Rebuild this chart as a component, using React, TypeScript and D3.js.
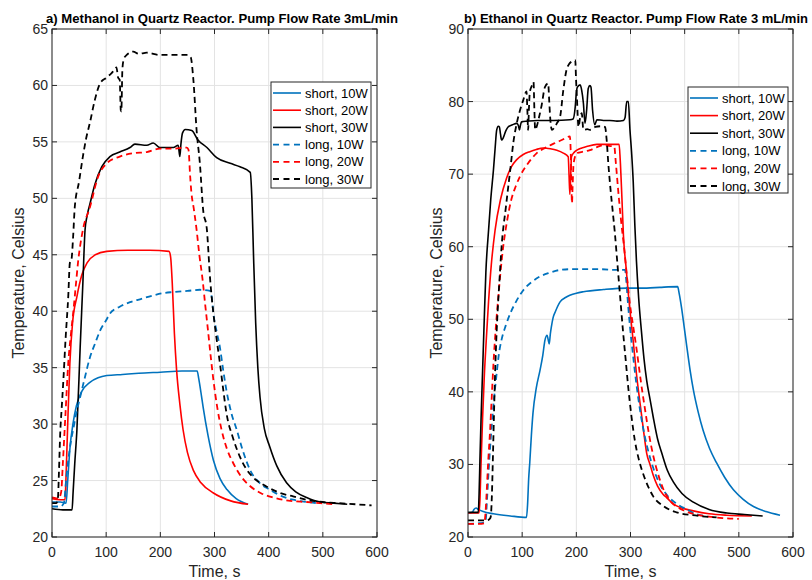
import React from 'react';
import * as d3 from 'd3';

type Pt = [number, number];

// ---------- tick labels / categories ----------
const timeTicks = [0, 100, 200, 300, 400, 500, 600];
const methTempTicks = [20, 25, 30, 35, 40, 45, 50, 55, 60, 65];
const ethTempTicks = [20, 30, 40, 50, 60, 70, 80, 90];
const seriesNames = ['short, 10W', 'short, 20W', 'short, 30W', 'long, 10W', 'long, 20W', 'long, 30W'];
const methTitle = 'a) Methanol in Quartz Reactor. Pump Flow Rate 3mL/min';
const ethTitle = 'b) Ethanol in Quartz Reactor. Pump Flow Rate 3 mL/min';
const xLabel = 'Time, s';
const yLabel = 'Temperature, Celsius';

// ---------- a) Methanol series: [time s, temperature C] ----------
const methShort10: Pt[] = [[0,23.1],[15,23.1],[26,23.0],[29,25.0],[33,27.8],[39,30.1],[45,31.6],[55,32.9],[70,33.7],[85,34.1],[101,34.3],[130,34.4],[160,34.5],[200,34.6],[240,34.7],[268,34.7],[271,34.0],[275,32.8],[279,31.5],[288,29.0],[298,26.8],[310,25.2],[323,24.2],[340,23.4],[362,22.9]];
const methShort20: Pt[] = [[0,23.4],[15,23.3],[24,23.3],[26,25.5],[29,30],[33,35.4],[38,39],[46,41.3],[55,43.2],[65,44.3],[80,45.0],[101,45.3],[140,45.4],[180,45.4],[216,45.3],[219,44.8],[222,42.5],[226,38],[230,34.8],[236,31.8],[242,29.5],[250,27.5],[261,25.9],[275,24.8],[298,23.9],[330,23.2],[362,22.9]];
const methShort30: Pt[] = [[0,22.5],[20,22.4],[37,22.4],[39,24],[42,26.5],[46,29.5],[52,36.8],[57,42.5],[61,47.2],[65,48.5],[70,49.5],[79,51.2],[92,52.8],[107,53.7],[125,54.1],[144,54.5],[153,54.8],[175,54.7],[187,54.9],[199,54.5],[224,54.5],[233,54.7],[236,53.7],[238,54.8],[241,55.8],[246,56.1],[258,56.0],[269,55.2],[286,54.5],[304,53.6],[329,53.1],[347,52.8],[366,52.3],[369,50],[372,45],[376,39],[380,35],[384,32.4],[392,29.6],[402,28.0],[415,26.3],[433,24.8],[450,24.0],[470,23.5],[495,23.1],[520,23.0],[545,22.9]];
const methLong10: Pt[] = [[0,22.7],[15,22.7],[22,23],[26,25],[30,26.8],[35,28.5],[39,29.5],[45,31],[52,32.4],[60,34.0],[70,35.9],[80,37.2],[89,38.3],[100,39.2],[107,39.8],[125,40.4],[144,40.8],[165,41.1],[187,41.4],[205,41.6],[224,41.7],[250,41.8],[273,41.9],[292,41.8],[295,41.2],[298,39.8],[304,38.2],[310,36.8],[316,34.8],[322,33.0],[331,31.0],[341,29.5],[352,27.7],[366,25.9],[383,24.8],[402,24.2],[425,23.6],[445,23.3],[470,23.1],[490,23.0]];
const methLong20: Pt[] = [[0,23.5],[12,23.4],[17,24],[20,26.5],[25,31],[30,35.4],[35,38],[39,39.8],[44,42.3],[48,44.3],[57,47.2],[70,49.2],[85,51.9],[101,53.1],[125,53.7],[150,54.0],[175,54.1],[199,54.4],[224,54.4],[249,54.5],[252,54.3],[255,52],[257,50.7],[262,49],[267,47.2],[272,45],[278,42.8],[283,40.5],[288,38.3],[293,36.0],[298,33.9],[305,31.5],[313,29.5],[323,27.8],[334,26.6],[350,25.3],[366,24.5],[385,23.9],[408,23.5],[440,23.2],[470,23.1],[495,23.0],[520,22.9]];
const methLong30: Pt[] = [[0,23.0],[8,23.0],[11,23.5],[13,26],[15,29],[18,31.5],[21,33.9],[25,37.5],[30,41.3],[33,44.3],[36,44.6],[39,46.6],[42,49.2],[50,51.5],[57,53.7],[63,55.3],[70,56.7],[79,58.7],[89,60.2],[101,60.7],[110,61.1],[116,61.4],[119,61.6],[122,60.7],[125,60.5],[127,57.8],[128,57.7],[130,61.5],[133,62.4],[138,62.7],[150,63.0],[160,62.8],[175,62.9],[199,62.7],[224,62.7],[249,62.7],[256,62.5],[261,60.5],[267,56],[273,53.1],[279,49],[286,47.2],[292,42.8],[298,39.8],[304,37.5],[310,35.4],[316,33.1],[322,31],[334,28.8],[347,27.1],[359,26.0],[371,25.3],[395,24.5],[421,23.9],[445,23.6],[470,23.3],[500,23.1],[530,23.0],[560,22.9],[590,22.8]];

// ---------- b) Ethanol series ----------
const ethShort10: Pt[] = [[0,23.3],[8,23.4],[11,23.8],[15,24.0],[19,23.8],[28,23.5],[47,23.2],[78,22.9],[108,22.7],[110,24.5],[112,28],[114,30.2],[117,34],[120,37.1],[126,40.5],[133,43],[138,45],[142,47.1],[146,47.8],[148,47.2],[150,46.6],[152,48],[154,49],[157,50.2],[161,51],[170,52.4],[180,53.0],[188,53.3],[200,53.6],[213,53.8],[250,54.1],[293,54.3],[330,54.3],[354,54.4],[387,54.5],[390,53.5],[394,51.7],[399,49],[404,46.2],[410,43],[416,40.3],[425,37.2],[434,34.7],[446,32.2],[459,30.2],[474,28.2],[490,26.5],[508,25.2],[527,24.2],[550,23.5],[576,23.0]];
const ethShort20: Pt[] = [[0,23.3],[20,23.3],[22,25],[24,30],[27,36.5],[30,42],[34,47.5],[38,52.5],[43,57.5],[50,62.3],[60,66.5],[71,69.4],[80,71],[90,72],[102,72.7],[114,73.1],[126,73.4],[139,73.6],[152,73.5],[164,73.3],[176,72.9],[185,72.4],[186.5,70],[188,67.2],[189.5,69.5],[191,72.4],[196,73],[201,73.3],[210,73.6],[219,73.8],[238,74.1],[260,74.1],[279,74.1],[281,72],[284,67],[287,61.5],[292,57],[296,53.5],[300,50.5],[305,47],[311,42.5],[318,38.2],[324,34.7],[330,31.5],[336,30.0],[342,28.5],[350,27.0],[360,25.9],[367,25.4],[380,24.5],[395,24.0],[416,23.6],[445,23.2],[478,23.0],[524,22.9]];
const ethShort30: Pt[] = [[0,23.4],[19,23.4],[20.5,26],[22,30.5],[24,36],[27,43],[30,50],[33,56.5],[38,62.3],[42,66.5],[47,70.6],[50,73.5],[53,76.1],[56,76.6],[58,76.5],[60,75.5],[62,74.7],[65,75],[70,76],[74,76.5],[82,76.8],[90,77],[93,76.7],[95,76.1],[97,76.8],[99,77.2],[110,77.3],[127,77.4],[158,77.4],[188,77.5],[194,77.6],[198,79.3],[200,81.2],[202,82],[207,82.3],[210,81.5],[213,79.8],[216,77],[219,78.8],[222,81.8],[225,82.2],[227,82],[230,78.8],[234,76.8],[238,77.5],[250,77.4],[262,77.4],[275,77.3],[287,77.4],[290,77.8],[293,80],[296,80],[299,76.1],[302,73],[305,69],[308,63],[311,58],[315,53],[320,48.5],[325,44.5],[330,41.5],[336,39],[342,36.5],[350,33.5],[358,31.5],[368,29.2],[379,27.6],[395,26],[416,24.8],[445,23.8],[478,23.3],[510,23.1],[544,22.9]];
const ethLong10: Pt[] = [[0,21.8],[22,21.9],[31,22],[33,22.5],[35,25],[38,29],[41,32.5],[44,35.5],[48,39],[53,42.6],[57,45.2],[62,47.2],[70,49.2],[78,50.8],[90,52.6],[102,54],[117,55.1],[133,55.9],[150,56.4],[170,56.8],[190,56.9],[207,56.9],[244,56.9],[275,56.8],[290,56.8],[292,55.5],[295,52.5],[299,49],[304,45.5],[311,41],[318,37.3],[326,34.0],[334,31.5],[342,29.5],[352,27.6],[367,25.8],[385,24.6],[404,23.8],[420,23.2],[437,22.9]];
const ethLong20: Pt[] = [[0,21.8],[20,21.8],[30,21.9],[32,23],[34,25.5],[37,30],[41,35],[44,39.5],[47,43.9],[51,48.5],[56,53.1],[60,56.5],[65,60],[72,63.5],[80,66.5],[88,68.3],[96,69.7],[110,71.4],[127,72.9],[142,73.6],[158,74.2],[173,74.7],[188,75.2],[190,72],[191,68],[192,66],[193,68],[195,71.5],[201,72.9],[213,73.1],[225,73.3],[237,73.7],[250,74.0],[260,73.9],[270,73.8],[273,71.5],[277,68],[282,64],[288,60],[294,55.5],[300,51.5],[305,49],[311,46],[319,41.5],[327,37.5],[334,34.2],[342,31.2],[350,28.9],[360,26.7],[372,25.1],[385,24.2],[400,23.6],[420,23.1],[445,22.8],[470,22.6],[500,22.5]];
const ethLong30: Pt[] = [[0,22.3],[35,22.3],[40,22.5],[42,22.8],[44,25.5],[46,31],[48,37],[50,42.5],[53,48.5],[56,52.8],[59,56.5],[62,60],[70,65.5],[78,70.6],[84,74.5],[90,77],[96,78.8],[102,80.2],[108,81.4],[109.5,79],[111,76.1],[112.5,79],[114,81.2],[118,82.2],[121,82.7],[122.5,79],[124,76.1],[127,76.6],[131,77.8],[136,79.5],[142,82],[148,82.5],[150,80],[152,77.5],[155,76.1],[160,76.5],[164,77],[170,77.9],[176,81.6],[182,84.4],[187,85.2],[191,85.5],[198,85.7],[199.5,83],[201,80.7],[204,76.5],[207,77.8],[210,78.4],[213,76.1],[220,76.2],[225,76.1],[235,76.5],[245,76.6],[253,76.5],[256,74.7],[259,71.5],[263,68],[267,65],[271,62],[276,57.5],[281,53],[286,48.5],[291,44.5],[296,40.5],[302,36.5],[308,33.3],[315,30.8],[322,29],[330,27.4],[342,25.6],[360,24.3],[385,23.4],[415,23],[459,22.7]];

const colors = ['#0072BD', '#FF0000', '#000000', '#0072BD', '#FF0000', '#000000'];
const dashed = [false, false, false, true, true, true];

const FONT = '"Liberation Sans", Arial, Helvetica, sans-serif';
const AXIS = '#262626';
const GRID = '#e3e3e3';

interface PanelProps {
  left: number; right: number; top: number; bottom: number;
  yDomain: [number, number]; yTicks: number[];
  title: string; titleX: number; titleLen: number;
  series: Pt[][];
  legendX: number; legendY: number; legendStep: number;
  yLabelX: number;
}

function Panel(p: PanelProps) {
  const x = d3.scaleLinear().domain([0, 600]).range([p.left, p.right]);
  const y = d3.scaleLinear().domain(p.yDomain).range([p.bottom, p.top]);
  const line = d3.line<Pt>().x(d => x(d[0])).y(d => y(d[1])).curve(d3.curveMonotoneX);
  const tl = 5;
  const midY = (p.top + p.bottom) / 2;
  const drawOrder = [0, 1, 2, 3, 4, 5];
  return (
    <g>
      {/* grid */}
      {timeTicks.map(t => (
        <line key={'gx' + t} x1={x(t)} x2={x(t)} y1={p.top} y2={p.bottom} stroke={GRID} strokeWidth={1} />
      ))}
      {p.yTicks.map(t => (
        <line key={'gy' + t} x1={p.left} x2={p.right} y1={y(t)} y2={y(t)} stroke={GRID} strokeWidth={1} />
      ))}
      {/* series */}
      {drawOrder.map(i => (
        <path key={'s' + i} d={line(p.series[i]) || ''} fill="none" stroke={colors[i]}
          strokeWidth={dashed[i] ? 1.8 : 1.6}
          strokeDasharray={dashed[i] ? '6,4' : undefined}
          strokeLinejoin="round" />
      ))}
      {/* box */}
      <rect x={p.left} y={p.top} width={p.right - p.left} height={p.bottom - p.top} fill="none" stroke={AXIS} strokeWidth={1} />
      {/* ticks */}
      {timeTicks.map(t => (
        <g key={'tx' + t}>
          <line x1={x(t)} x2={x(t)} y1={p.bottom} y2={p.bottom - tl} stroke={AXIS} />
          <line x1={x(t)} x2={x(t)} y1={p.top} y2={p.top + tl} stroke={AXIS} />
          <text x={x(t)} y={p.bottom + 20} textAnchor="middle" fontSize={14} fill={AXIS} fontFamily={FONT}>{t}</text>
        </g>
      ))}
      {p.yTicks.map(t => (
        <g key={'ty' + t}>
          <line x1={p.left} x2={p.left + tl} y1={y(t)} y2={y(t)} stroke={AXIS} />
          <line x1={p.right} x2={p.right - tl} y1={y(t)} y2={y(t)} stroke={AXIS} />
          <text x={p.left - 4} y={y(t) + 5} textAnchor="end" fontSize={14} fill={AXIS} fontFamily={FONT}>{t}</text>
        </g>
      ))}
      {/* labels */}
      <text x={(p.left + p.right) / 2} y={p.bottom + 40} textAnchor="middle" fontSize={16} fill={AXIS} fontFamily={FONT}>{xLabel}</text>
      <text transform={`translate(${p.yLabelX},${midY}) rotate(-90)`} textAnchor="middle" fontSize={16} fill={AXIS} fontFamily={FONT}>{yLabel}</text>
      <text x={p.titleX} y={23} fontSize={12} fontWeight="bold" fill="#000" fontFamily={FONT}
        textLength={p.titleLen} lengthAdjust="spacingAndGlyphs">{p.title}</text>
      {/* legend */}
      <g>
        <rect x={p.legendX} y={p.legendY} width={100} height={106} fill="#fff" stroke={AXIS} strokeWidth={1} />
        {seriesNames.map((nm, i) => {
          const ry = p.legendY + 11 + i * p.legendStep;
          return (
            <g key={'lg' + i}>
              <line x1={p.legendX + 2} x2={p.legendX + 30} y1={ry} y2={ry} stroke={colors[i]}
                strokeWidth={dashed[i] ? 1.8 : 1.6} strokeDasharray={dashed[i] ? '6,4.5' : undefined} />
              <text x={p.legendX + 34} y={ry + 4.6} fontSize={13} fill="#000" fontFamily={FONT}>{nm}</text>
            </g>
          );
        })}
      </g>
    </g>
  );
}

export default function App() {
  return (
    <svg width={812} height={580} viewBox="0 0 812 580" style={{ position: 'absolute', left: 0, top: 0, background: '#fff' }}>
      <rect x={0} y={0} width={812} height={580} fill="#fff" />
      <Panel left={52} right={377} top={29} bottom={537} yDomain={[20, 65]} yTicks={methTempTicks}
        title={methTitle} titleX={46} titleLen={352}
        series={[methShort10, methShort20, methShort30, methLong10, methLong20, methLong30]}
        legendX={271} legendY={82} legendStep={17.2} yLabelX={24} />
      <Panel left={468} right={793} top={29} bottom={537} yDomain={[20, 90]} yTicks={ethTempTicks}
        title={ethTitle} titleX={464} titleLen={344}
        series={[ethShort10, ethShort20, ethShort30, ethLong10, ethLong20, ethLong30]}
        legendX={688} legendY={87} legendStep={17.6} yLabelX={442} />
    </svg>
  );
}
